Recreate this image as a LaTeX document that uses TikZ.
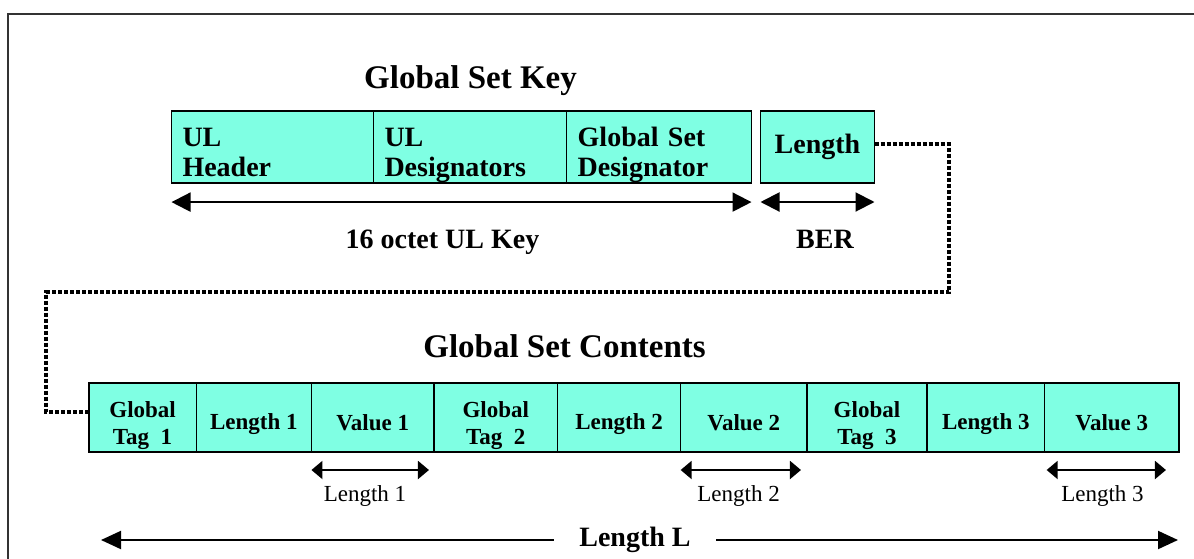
\documentclass[tikz,border=0pt]{standalone}
\usepackage{fontspec}
\setmainfont{Liberation Serif}
\usetikzlibrary{arrows.meta,positioning}
\definecolor{setcyan}{RGB}{127,255,227}
\newcommand{\keytop}{\rule{0pt}{18pt}}
\newcommand{\settop}{\rule{0pt}{16pt}}
\newcommand{\setone}{\rule[-2.5pt]{0pt}{17.5pt}}
\tikzset{
	cell/.style={draw=black, line width=0.75pt, fill=setcyan, inner sep=0pt, outer sep=0pt},
	keycell/.style 2 args={cell, minimum width=#1, text width=#2, minimum height=36pt, align=left, font=\fontsize{14}{15}\selectfont\bfseries},
	setcell/.style={cell, minimum width=#1, minimum height=34.5pt, align=center, font=\fontsize{11.5}{13.5}\selectfont\bfseries},
	bigdim/.style={line width=1pt, {Triangle[length=9.5pt,width=9.5pt]}-{Triangle[length=9.5pt,width=9.5pt]}},
	smalldim/.style={line width=1pt, {Triangle[length=5.5pt,width=9pt]}-{Triangle[length=5.5pt,width=9pt]}},
	longarrow/.style={line width=1pt, -{Triangle[length=10pt,width=9pt]}},
	link/.style={line width=2pt, dash pattern=on 2pt off 1pt},
	title/.style={anchor=base, font=\fontsize{16.5}{19}\selectfont\bfseries},
	dimlabel/.style={anchor=base, font=\fontsize{14}{16}\selectfont\bfseries},
	vallabel/.style={anchor=base, font=\fontsize{11.5}{13.5}\selectfont}
}

\begin{document}
\begin{tikzpicture}[x=0.5pt, y=-0.5pt]
			%%%%% START %%%%%
			\useasboundingbox (0, 0) rectangle (1194, 558);
			
			\draw[line width=1pt, color=black!80] (8.4, 560) -- (8.4, 13.5) -- (1196, 13.5);
			
			%%%%% KEY %%%%%
			\node[title] (keytitle) at (470.5, 88) {Global Set Key};
			
			\node[keycell={101pt}{90pt}] (hdr) at (272.5, 147) {\keytop UL\\Header\vphantom{g}};
			\node[keycell={96.6pt}{85.6pt}, right=0pt of hdr] (des) {\keytop UL\\Designators};
			\node[keycell={92.4pt}{81.4pt}, right=0pt of des] (gsd) {\keytop Global Set\\Designator};
			\node[cell, minimum width=57pt, minimum height=36pt, font=\fontsize{14}{16}\selectfont\bfseries, right=4.5pt of gsd] (len) {Length};
			
			\draw[bigdim] ([yshift=-9.5pt]hdr.south west) -- ([yshift=-9.5pt]gsd.south east);
			\draw[bigdim] ([yshift=-9.5pt]len.south west) -- ([yshift=-9.5pt]len.south east);
			\node[dimlabel] (keylen) at (442.5, 248) {16 octet UL Key};
			\node[dimlabel] (ber) at (825, 248) {BER};
			
			%%%%% LINK %%%%%
			\coordinate (bendA) at (949, 292);
			\coordinate (bendB) at (46, 292);
			
			%%%%% CONTENTS %%%%%
			\node[title] (settitle) at (564.5, 357) {Global Set Contents};
			
			\node[setcell=53.65pt] (tag1) at (142.6, 417.5) {\settop Global\\Tag~ 1};
			\node[setcell=57.6pt, right=0pt of tag1] (len1) {\setone Length 1};
			\node[setcell=61.25pt, right=0pt of len1] (val1) {\setone Value 1};
			\node[setcell=61.8pt, right=0pt of val1] (tag2) {\settop Global\\Tag~ 2};
			\node[setcell=61.55pt, right=0pt of tag2] (len2) {\setone Length 2};
			\node[setcell=63.15pt, right=0pt of len2] (val2) {\setone Value 2};
			\node[setcell=60pt, right=0pt of val2] (tag3) {\settop Global\\Tag~ 3};
			\node[setcell=58.85pt, right=0pt of tag3] (len3) {\setone Length 3};
			\node[setcell=67.15pt, right=0pt of len3] (val3) {\setone Value 3};
			
			\draw[link] ([yshift=1.5pt]len.east) -| (bendA) -- (bendB) |- ([yshift=3pt]tag1.west);
			
			\draw[smalldim, shorten >=2.5pt] ([yshift=-9pt]val1.south west) -- ([yshift=-9pt]val1.south east);
			\draw[smalldim, shorten >=3pt] ([yshift=-9pt]val2.south west) -- ([yshift=-9pt]val2.south east);
			\draw[smalldim, shorten <=1pt, shorten >=6.5pt] ([yshift=-9pt]val3.south west) -- ([yshift=-9pt]val3.south east);
			\node[vallabel] (vl1) at (365, 501.7) {Length 1};
			\node[vallabel] (vl2) at (738.6, 501.7) {Length 2};
			\node[vallabel] (vl3) at (1102.5, 501.7) {Length 3};
			
			\coordinate (totleft) at (101, 540);
			\coordinate (totright) at (1178, 540);
			\node[font=\fontsize{14}{16}\selectfont\bfseries, inner xsep=12.5pt, inner ysep=0pt] (total) at (635, 540) {Length L};
			\draw[longarrow] (total.west) -- (totleft);
			\draw[longarrow] (total.east) -- (totright);
			%%%%% END %%%%%
\end{tikzpicture}
\end{document}
